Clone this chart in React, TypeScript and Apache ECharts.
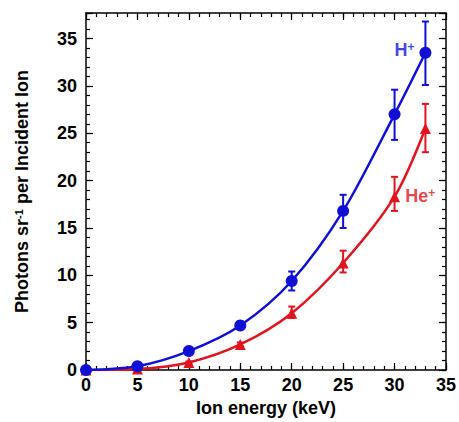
import React, { useEffect, useRef } from "react";
import * as echarts from "echarts";

const energies = [0, 5, 10, 15, 20, 25, 30, 33];
const hPlus = [0, 0.4, 2.0, 4.7, 9.4, 16.8, 27.0, 33.5];
const hPlusLow = [0, 0.3, 1.8, 4.4, 8.4, 15.0, 24.3, 30.1];
const hPlusHigh = [0, 0.5, 2.2, 5.1, 10.4, 18.5, 29.6, 36.8];
const hePlus = [0, 0.1, 0.8, 2.7, 6.0, 11.3, 18.3, 25.5];
const hePlusLow = [0, 0.05, 0.7, 2.5, 5.5, 10.3, 16.8, 23.0];
const hePlusHigh = [0, 0.15, 0.9, 2.9, 6.7, 12.6, 20.4, 28.1];
const xTicks = [0, 5, 10, 15, 20, 25, 30, 35];
const yTicks = [0, 5, 10, 15, 20, 25, 30, 35];
const hLabelPos = [29.94, 33.74];
const heLabelPos = [31.0, 18.4];

const BLUE = "#1010d4";
const RED = "#e0141c";
const FONT = "Liberation Sans, Arial, sans-serif";
const X_MIN = 0, X_MAX = 35, Y_MIN = 0, Y_MAX = 37.7;

export default function App() {
  const ref = useRef<HTMLDivElement>(null);
  useEffect(() => {
    if (!ref.current) return;
    const chart = echarts.init(ref.current, null, { renderer: "svg" });

    const axisLineStyle = { show: true, onZero: false, lineStyle: { color: "#000", width: 1.5 } };
    const noLine = { show: false, onZero: false };
    const tickStyle = (major: boolean) => ({
      show: true,
      inside: true,
      length: major ? 7 : 4,
      lineStyle: { color: "#000", width: 1.2 },
    });
    const mkX = (position: string, major: boolean, labels: boolean) => ({
      type: "value",
      position,
      min: X_MIN,
      max: X_MAX,
      interval: major ? 5 : 1,
      axisLine: major ? axisLineStyle : noLine,
      axisTick: tickStyle(major),
      axisLabel: labels
        ? {
            show: true,
            formatter: (v: number) => (xTicks.includes(v) ? String(v) : ""),
            fontSize: 18, fontWeight: "bold", color: "#000", fontFamily: FONT, margin: 6,
          }
        : { show: false },
      splitLine: { show: false },
      ...(labels
        ? {
            name: "Ion energy (keV)",
            nameLocation: "middle",
            nameGap: 29,
            nameTextStyle: { fontSize: 18, fontWeight: "bold", color: "#000", fontFamily: FONT },
          }
        : {}),
    });
    const mkY = (position: string, major: boolean, labels: boolean) => ({
      type: "value",
      position,
      min: Y_MIN,
      max: Y_MAX,
      interval: major ? 5 : 1,
      axisLine: major ? axisLineStyle : noLine,
      axisTick: tickStyle(major),
      axisLabel: labels
        ? {
            show: true,
            formatter: (v: number) => (yTicks.includes(v) ? String(v) : ""),
            fontSize: 18, fontWeight: "bold", color: "#000", fontFamily: FONT, margin: 9,
          }
        : { show: false },
      splitLine: { show: false },
      ...(labels
        ? {
            name: "{t|Photons sr}{s|-1}{t| per Incident Ion}",
            nameLocation: "middle",
            nameRotate: 90,
            nameGap: 55,
            nameTextStyle: {
              fontSize: 18,
              fontWeight: "bold",
              color: "#000",
              fontFamily: FONT,
              rich: {
                t: { fontSize: 18, fontWeight: "bold", color: "#000", fontFamily: FONT },
                s: { fontSize: 11, fontWeight: "bold", color: "#000", fontFamily: FONT, verticalAlign: "top" },
              },
            },
          }
        : {}),
    });

    const errSeries = (low: number[], high: number[], color: string) => ({
      type: "custom",
      xAxisIndex: 0,
      yAxisIndex: 0,
      z: 3,
      data: energies.map((x, i) => [x, low[i], high[i]]),
      encode: { x: 0, y: [1, 2] },
      renderItem: (params: any, api: any) => {
        const x = api.value(0);
        const lo = api.coord([x, api.value(1)]);
        const hi = api.coord([x, api.value(2)]);
        const w = 3.5;
        const style = { stroke: color, lineWidth: 2 };
        return {
          type: "group",
          children: [
            { type: "line", shape: { x1: lo[0], y1: lo[1], x2: hi[0], y2: hi[1] }, style },
            { type: "line", shape: { x1: lo[0] - w, y1: lo[1], x2: lo[0] + w, y2: lo[1] }, style },
            { type: "line", shape: { x1: hi[0] - w, y1: hi[1], x2: hi[0] + w, y2: hi[1] }, style },
          ],
        };
      },
    });

    const labelSeries = (pos: number[], text: string, color: string) => ({
      type: "scatter",
      xAxisIndex: 0,
      yAxisIndex: 0,
      symbolSize: 1,
      itemStyle: { color: "transparent" },
      silent: true,
      z: 10,
      data: [pos],
      label: {
        show: true,
        position: "right",
        distance: 0,
        formatter: `{b|${text}}{s|+}`,
        rich: {
          b: { fontSize: 18, fontWeight: "bold", color, fontFamily: FONT },
          s: { fontSize: 12, fontWeight: "bold", color, fontFamily: FONT, verticalAlign: "top" },
        },
      },
    });

    chart.setOption({
      animation: false,
      backgroundColor: "#fff",
      grid: { left: 86, right: 12, top: 13, bottom: 50, containLabel: false },
      xAxis: [mkX("bottom", true, true), mkX("bottom", false, false), mkX("top", true, false), mkX("top", false, false)],
      yAxis: [mkY("left", true, true), mkY("left", false, false), mkY("right", true, false), mkY("right", false, false)],
      series: [
        errSeries(hePlusLow, hePlusHigh, RED),
        errSeries(hPlusLow, hPlusHigh, BLUE),
        {
          type: "line",
          xAxisIndex: 0,
          yAxisIndex: 0,
          smooth: 0.3,
          z: 4,
          data: energies.map((x, i) => [x, hePlus[i]]),
          symbol: "triangle",
          symbolSize: 11,
          itemStyle: { color: RED },
          lineStyle: { color: RED, width: 2.5 },
        },
        {
          type: "line",
          xAxisIndex: 0,
          yAxisIndex: 0,
          smooth: 0.3,
          z: 5,
          data: energies.map((x, i) => [x, hPlus[i]]),
          symbol: "circle",
          symbolSize: 12,
          itemStyle: { color: BLUE },
          lineStyle: { color: BLUE, width: 2.5 },
        },
        labelSeries(hLabelPos, "H", BLUE),
        labelSeries(heLabelPos, "He", RED),
      ],
    });
    return () => chart.dispose();
  }, []);

  return (
    <div
      ref={ref}
      style={{ position: "fixed", left: 0, top: 0, width: 459, height: 422, background: "#fff" }}
    />
  );
}
